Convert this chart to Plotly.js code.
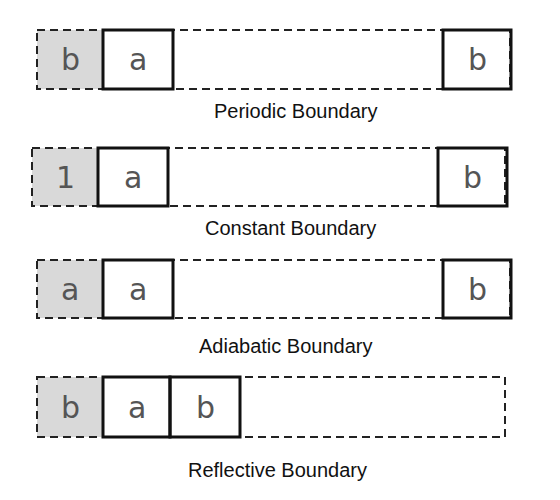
<!DOCTYPE html>
<html><head><meta charset="utf-8">
<script src="https://cdn.plot.ly/plotly-3.0.1.min.js"></script>
<style>body{margin:0}#c{width:560px;height:500px}</style>
</head><body><div id="c"></div>
<script>
// Each row: outer dashed frame, ghost (gray) cell, solid cells, caption
const rowLabels = ["Periodic Boundary","Constant Boundary","Adiabatic Boundary","Reflective Boundary"];
const rowTop    = [30, 148, 260, 377];
const rowBottom = [89, 206, 318, 437];
const frameX0   = [37, 32, 37, 37];
const frameX1   = [510, 505, 510, 505];
const ghostText = ["b","1","a","b"];
const ghostX1   = [103, 98, 103, 103];
const cellText  = [["a","b"],["a","b"],["a","b"],["a","b"]];
const cellX0    = [[103,443],[98,438],[103,443],[103,170]];
const cellX1    = [[173,511],[168,507],[173,511],[170,240]];
const labelX    = [295, 290, 285, 277];
const labelY    = [111, 228, 346, 470];

const shapes = [], ann = [];
for (let r = 0; r < 4; r++) {
  const y0 = rowTop[r], y1 = rowBottom[r];
  shapes.push({type:'rect', x0:frameX0[r], x1:ghostX1[r], y0, y1, fillcolor:'#d9d9d9', line:{width:0}});
  shapes.push({type:'rect', x0:frameX0[r], x1:frameX1[r], y0, y1, line:{color:'#222', width:2, dash:'8px,5px'}});
  ann.push({x:(frameX0[r]+ghostX1[r])/2, y:(y0+y1)/2, text:ghostText[r], showarrow:false, font:{size:30, color:'#555', family:'DejaVu Sans'}});
  for (let k = 0; k < cellText[r].length; k++) {
    shapes.push({type:'rect', x0:cellX0[r][k], x1:cellX1[r][k], y0, y1, line:{color:'#111', width:3}});
    ann.push({x:(cellX0[r][k]+cellX1[r][k])/2, y:(y0+y1)/2, text:cellText[r][k], showarrow:false, font:{size:30, color:'#555', family:'DejaVu Sans'}});
  }
  ann.push({x:labelX[r], y:labelY[r], text:rowLabels[r], showarrow:false, font:{size:20, color:'#111', family:'Liberation Sans'}});
}
Plotly.newPlot('c', [], {
  width:560, height:500, margin:{l:0,r:0,t:0,b:0},
  paper_bgcolor:'white', plot_bgcolor:'white',
  xaxis:{range:[0,560], visible:false, fixedrange:true},
  yaxis:{range:[500,0], visible:false, fixedrange:true},
  shapes, annotations:ann, showlegend:false
}, {staticPlot:true});
</script></body></html>
